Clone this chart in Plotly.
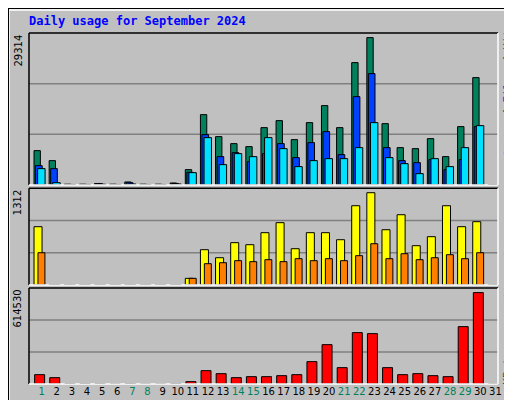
import plotly.graph_objects as go
from plotly.subplots import make_subplots

days = list(range(1, 32))
weekend = [1, 7, 8, 14, 15, 21, 22, 28, 29]
hits = [6831, 4841, 150, 150, 300, 150, 600, 150, 150, 400, 3051, 13994, 9617, 8224, 7627, 11407,
        12800, 9020, 12402, 15785, 11407, 24340, 29314, 12203, 7428, 7229, 9219, 5637, 11606, 21355, 0]
files = [3847, 3250, 100, 100, 250, 100, 450, 100, 100, 300, 2520, 10014, 5637, 6433, 4642, 6234,
         8224, 5438, 8423, 10611, 6035, 17575, 22151, 7428, 4841, 4443, 5040, 3051, 5040, 11606, 0]
pages = [3250, 464, 100, 100, 150, 100, 200, 100, 100, 200, 2454, 9418, 4046, 6234, 5637, 9418,
         7229, 3648, 4841, 5239, 5239, 7428, 12402, 5438, 4245, 2255, 5239, 3648, 7428, 11805, 0]
visits = [829, 5, 5, 5, 5, 5, 5, 5, 5, 5, 95, 502, 388, 602, 573, 744,
          886, 516, 744, 744, 644, 1127, 1312, 786, 999, 559, 687, 1127, 829, 900, 0]
sites = [459, 5, 5, 5, 5, 5, 5, 5, 5, 5, 95, 303, 317, 346, 332, 360,
         332, 374, 346, 374, 346, 417, 587, 374, 445, 360, 388, 431, 374, 459, 0]
kbytes = [62800, 42600, 3000, 3000, 3000, 0, 3000, 0, 0, 3000, 15700, 89700, 69500, 42600, 49300, 49300,
          56100, 62800, 150300, 264600, 109900, 345400, 338700, 109900, 62800, 69500, 56100, 49300, 385700, 614530, 0]
ticktext = [f"<span style='color:#00805C'>{d}</span>" if d in weekend else str(d) for d in days]

fig = make_subplots(rows=3, cols=1, shared_xaxes=True, vertical_spacing=0)
ol = dict(color="black", width=1)
def bar(y, color, off, w, row):
    fig.add_trace(go.Bar(x=days, y=y, offset=off, width=w, marker=dict(color=color, line=ol),
                         showlegend=False, hoverinfo="skip"), row=row, col=1)
bar(hits, "#00805C", -0.5, 0.42, 1)
bar(files, "#0040FF", -0.4, 0.44, 1)
bar(pages, "#00E0FF", -0.26, 0.49, 1)
bar(visits, "#FFFF00", -0.5, 0.53, 2)
bar(sites, "#FF8000", -0.24, 0.46, 2)
bar(kbytes, "#FF0000", -0.46, 0.66, 3)

fig.update_layout(
    width=512, height=400, barmode="overlay",
    margin=dict(l=21, r=22, t=25, b=24),
    paper_bgcolor="#C0C0C0", plot_bgcolor="#C0C0C0",
    font=dict(family="DejaVu Sans", size=10, color="black"),
    yaxis=dict(domain=[0.567, 1], range=[0, 30230]),
    yaxis2=dict(domain=[0.282, 0.558], range=[0, 1377]),
    yaxis3=dict(domain=[0, 0.2735], range=[0, 645500]),
)
for i in (1, 2, 3):
    fig.update_yaxes(showgrid=False, showticklabels=False, zeroline=False, row=i, col=1)
    fig.update_xaxes(range=[0.168, 31.17], showgrid=False, zeroline=False, row=i, col=1)
fig.update_xaxes(tickvals=days, ticktext=ticktext, tickangle=0, ticks="", tickfont=dict(size=10), row=3, col=1)

shapes = []
for ya in ("y", "y2", "y3"):
    for f in (1/3, 2/3):
        shapes.append(dict(type="line", xref="x domain", yref=f"{ya} domain", x0=0, x1=1, y0=f, y1=f,
                           line=dict(color="#808080", width=1.5), layer="below"))
    shapes.append(dict(type="line", xref="x domain", yref=f"{ya} domain", x0=0, x1=1, y0=1, y1=1, line=dict(color="black", width=1.5)))
    shapes.append(dict(type="line", xref="x domain", yref=f"{ya} domain", x0=0, x1=0, y0=0, y1=1, line=dict(color="black", width=1.5)))
    shapes.append(dict(type="line", xref="x domain", yref=f"{ya} domain", x0=0, x1=1, y0=0, y1=0, line=dict(color="white", width=1.5)))
    shapes.append(dict(type="line", xref="x domain", yref=f"{ya} domain", x0=1, x1=1, y0=0, y1=1, line=dict(color="white", width=1.5)))
W, H = 469, 351
shapes.append(dict(type="rect", xref="paper", yref="paper", x0=-20/W, x1=1 + 20/W, y0=-22/H, y1=1 + 23/H,
                   line=dict(color="white", width=1.5)))
shapes.append(dict(type="line", xref="paper", yref="paper", x0=-19/W, x1=1 + 20/W, y0=-22/H, y1=-22/H,
                   line=dict(color="#808080", width=3)))
shapes.append(dict(type="line", xref="paper", yref="paper", x0=1 + 20/W, x1=1 + 20/W, y0=-22/H, y1=1 + 22/H,
                   line=dict(color="#808080", width=3)))
shapes.append(dict(type="rect", xref="paper", yref="paper", x0=-21/W, x1=1 + 22/W, y0=-24/H, y1=1 + 25/H,
                   line=dict(color="black", width=2)))
fig.update_layout(shapes=shapes)

mono = "DejaVu Sans Mono"
rx = 1 + 10/W
ann = [
    dict(text="<b>Daily usage for September 2024</b>", x=-2/W, y=1 + 12/H, xanchor="left", yanchor="middle",
         font=dict(family=mono, size=12, color="#0000FF")),
    dict(text="29314", x=-4/W, y=1, xanchor="right", yanchor="top", textangle=-90, font=dict(size=10)),
    dict(text="1312", x=-4/W, y=0.558, xanchor="right", yanchor="top", textangle=-90, font=dict(size=10)),
    dict(text="614530", x=-4/W, y=0.2735, xanchor="right", yanchor="top", textangle=-90, font=dict(size=10)),
    dict(text="<span style='color:#00E0FF'>Pages</span> / <span style='color:#0040FF'>Files</span> / <span style='color:#00805C'>Hits</span>",
         x=rx, y=0.838, xanchor="center", yanchor="middle", textangle=-90, font=dict(family=mono, size=11, color="black")),
    dict(text="<span style='color:#FF8000'>Sites</span> / <span style='color:#FFFF00'>Visits</span>",
         x=rx, y=0.373, xanchor="center", yanchor="middle", textangle=-90, font=dict(family=mono, size=11, color="black")),
    dict(text="<span style='color:#FF0000'>KBytes</span>",
         x=rx, y=0.055, xanchor="center", yanchor="middle", textangle=-90, font=dict(family=mono, size=11)),
]
for a in ann:
    a.update(xref="paper", yref="paper", showarrow=False)
fig.update_layout(annotations=ann)
fig.write_html("out.html")
